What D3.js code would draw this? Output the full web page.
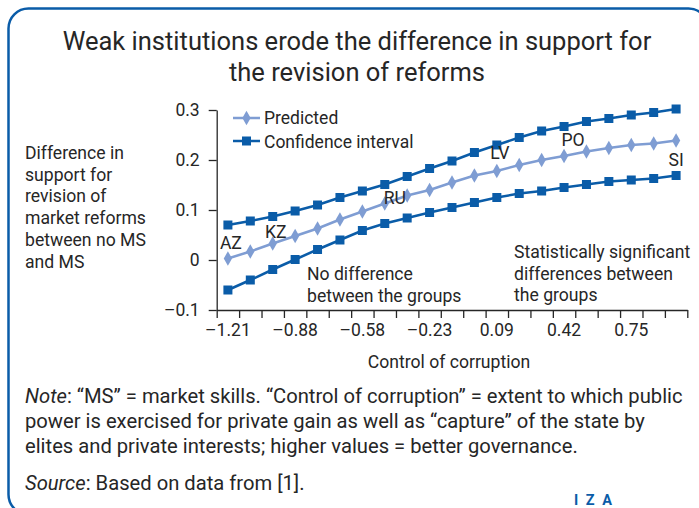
<!DOCTYPE html>
<html>
<head>
<meta charset="utf-8">
<script src="https://cdn.jsdelivr.net/npm/d3@7"></script>
<style>
  body { margin: 0; background: #fff; }
  svg { display: block; font-family: Roboto, "Liberation Sans", sans-serif; }
</style>
</head>
<body>
<svg width="699" height="508"></svg>
<script>
// control of corruption, one value per category (only every third is labelled)
var categories = [-1.21, -1.10, -0.99, -0.88, -0.78, -0.68, -0.58, -0.46, -0.35, -0.23, -0.12,
                  -0.01, 0.09, 0.20, 0.31, 0.42, 0.53, 0.64, 0.75, 0.86, 0.97];
var tickLabels = ["–1.21", "–0.88", "–0.58", "–0.23", "0.09", "0.42", "0.75"];
var yTicks = [-0.1, 0, 0.1, 0.2, 0.3];

var predicted = [0.003, 0.017, 0.033, 0.048, 0.063, 0.081, 0.097, 0.113, 0.129, 0.140, 0.155,
                 0.169, 0.178, 0.190, 0.200, 0.208, 0.217, 0.224, 0.230, 0.233, 0.239];
var upperCI = [0.070, 0.078, 0.087, 0.098, 0.110, 0.125, 0.138, 0.151, 0.167, 0.183, 0.198,
               0.215, 0.230, 0.245, 0.258, 0.267, 0.277, 0.283, 0.290, 0.295, 0.302];
var lowerCI = [-0.060, -0.040, -0.019, 0.001, 0.021, 0.040, 0.059, 0.073, 0.084, 0.095, 0.105,
               0.115, 0.125, 0.133, 0.138, 0.145, 0.151, 0.157, 0.160, 0.163, 0.169];

// country codes and the category they sit over
var countries = ["AZ", "KZ", "RU", "LV", "PO", "SI"];
var countryCats = [-1.21, -0.99, -0.46, 0.09, 0.42, 0.97];

var titleLines = ["Weak institutions erode the difference in support for", "the revision of reforms"];
var yTitleLines = ["Difference in", "support for", "revision of", "market reforms", "between no MS", "and MS"];

var dark = "#0a5ca8",
    light = "#7f9dd3",
    ink = "#262626";

var svg = d3.select("svg"),
    width = +svg.attr("width"),
    height = +svg.attr("height");

// frame
svg.append("rect")
    .attr("x", 8.5).attr("y", 8.5)
    .attr("width", 700).attr("height", 506)
    .attr("rx", 20).attr("ry", 20)
    .attr("fill", "none")
    .attr("stroke", dark)
    .attr("stroke-width", 2.5);

// title
svg.append("text")
    .attr("text-anchor", "middle")
    .attr("font-size", 25.5)
    .attr("fill", ink)
  .selectAll("tspan")
  .data(titleLines)
  .enter().append("tspan")
    .attr("x", 357)
    .attr("y", function(d, i) { return 50 + i * 31; })
    .text(function(d) { return d; });

var plotLeft = 216.7, plotRight = 687.3, plotTop = 110, plotBottom = 310;

var x = d3.scaleBand()
    .domain(categories)
    .range([plotLeft, plotRight]);

var xEdges = d3.scaleLinear()
    .domain([0, categories.length])
    .range([plotLeft, plotRight]);

var y = d3.scaleLinear()
    .domain([-0.1, 0.3])
    .range([plotBottom, plotTop]);

var cx = function(d, i) { return x(categories[i]) + x.bandwidth() / 2; };

// y axis
var yAxis = svg.append("g")
    .attr("transform", "translate(" + plotLeft + ",0)")
    .call(d3.axisLeft(y)
        .tickValues(yTicks)
        .tickSize(8)
        .tickSizeOuter(0)
        .tickPadding(9)
        .tickFormat(function(d) { return d === 0 ? "0" : d3.format(".1f")(d).replace("−", "–"); }));
yAxis.selectAll("text").attr("font-size", 17.5).attr("fill", ink).attr("font-family", "Roboto");
yAxis.selectAll("line, path").attr("stroke", ink).attr("stroke-width", 1.3);

// x axis: ticks at category edges, labels every third category
var xTickAxis = svg.append("g")
    .attr("transform", "translate(0," + plotBottom + ")")
    .call(d3.axisBottom(xEdges)
        .tickValues(d3.range(categories.length + 1))
        .tickSize(8)
        .tickSizeOuter(0)
        .tickFormat(""));
xTickAxis.selectAll("line, path").attr("stroke", ink).attr("stroke-width", 1.3);

var labelled = categories.filter(function(d, i) { return i % 3 === 0; });
var xLabelAxis = svg.append("g")
    .attr("transform", "translate(0," + plotBottom + ")")
    .call(d3.axisBottom(x)
        .tickValues(labelled)
        .tickSize(0)
        .tickPadding(14)
        .tickFormat(function(d, i) { return tickLabels[i]; }));
xLabelAxis.select(".domain").remove();
xLabelAxis.selectAll("text").attr("font-size", 17.5).attr("fill", ink).attr("font-family", "Roboto");

svg.append("text")
    .attr("x", (plotLeft + plotRight) / 2 - 3)
    .attr("y", 368)
    .attr("text-anchor", "middle")
    .attr("font-size", 17.6)
    .attr("fill", ink)
    .text("Control of corruption");

// y title
svg.append("text")
    .attr("font-size", 17.6)
    .attr("fill", ink)
  .selectAll("tspan")
  .data(yTitleLines)
  .enter().append("tspan")
    .attr("x", 25)
    .attr("y", function(d, i) { return 159 + i * 21.7; })
    .text(function(d) { return d; });

// series
var line = d3.line()
    .x(cx)
    .y(function(d) { return y(d); });

var diamond = d3.symbol().type(d3.symbolDiamond).size(60);

[upperCI, lowerCI].forEach(function(series) {
    svg.append("path")
        .datum(series)
        .attr("d", line)
        .attr("fill", "none")
        .attr("stroke", dark)
        .attr("stroke-width", 2.5);
    svg.append("g").selectAll("rect")
        .data(series)
        .enter().append("rect")
            .attr("x", function(d, i) { return cx(d, i) - 4.5; })
            .attr("y", function(d) { return y(d) - 4.5; })
            .attr("width", 9)
            .attr("height", 9)
            .attr("fill", dark);
});

svg.append("path")
    .datum(predicted)
    .attr("d", line)
    .attr("fill", "none")
    .attr("stroke", light)
    .attr("stroke-width", 2.5);
svg.append("g").selectAll("path")
    .data(predicted)
    .enter().append("path")
        .attr("d", diamond)
        .attr("transform", function(d, i) { return "translate(" + cx(d, i) + "," + y(d) + ")"; })
        .attr("fill", light);

// country labels
var labelShift = { AZ: [3, -10], KZ: [3, -6], RU: [10, 0], LV: [3, -12], PO: [9, -10], SI: [0, 25] };
svg.append("g").selectAll("text")
    .data(countries)
    .enter().append("text")
        .attr("text-anchor", "middle")
        .attr("font-size", 17.6)
        .attr("fill", ink)
        .attr("x", function(d, i) { return x(countryCats[i]) + x.bandwidth() / 2 + labelShift[d][0]; })
        .attr("y", function(d, i) {
            var k = categories.indexOf(countryCats[i]);
            return y(predicted[k]) + labelShift[d][1];
        })
        .text(function(d) { return d; });

// region notes
var notes = [
    { x: 307, y: 280, lines: ["No difference", "between the groups"] },
    { x: 514, y: 258, lines: ["Statistically significant", "differences between", "the groups"] }
];
notes.forEach(function(n) {
    svg.append("text")
        .attr("font-size", 17.6)
        .attr("fill", ink)
      .selectAll("tspan")
      .data(n.lines)
      .enter().append("tspan")
        .attr("x", n.x)
        .attr("y", function(d, i) { return n.y + i * 21.7; })
        .text(function(d) { return d; });
});

// legend
var legend = svg.append("g").attr("transform", "translate(233,0)");
legend.append("line").attr("x1", 0).attr("x2", 27).attr("y1", 118).attr("y2", 118)
    .attr("stroke", light).attr("stroke-width", 2.5);
legend.append("path").attr("d", diamond).attr("transform", "translate(13.5,118)").attr("fill", light);
legend.append("text").attr("x", 31).attr("y", 124).attr("font-size", 17.5).attr("fill", ink).text("Predicted");
legend.append("line").attr("x1", 0).attr("x2", 27).attr("y1", 141).attr("y2", 141)
    .attr("stroke", dark).attr("stroke-width", 2.5);
legend.append("rect").attr("x", 9).attr("y", 136.5).attr("width", 9).attr("height", 9).attr("fill", dark);
legend.append("text").attr("x", 31).attr("y", 147.5).attr("font-size", 17.5).attr("fill", ink).text("Confidence interval");

// note and source
var noteText = svg.append("g").attr("font-size", 20.2).attr("fill", ink);
var n1 = noteText.append("text").attr("x", 25).attr("y", 403);
n1.append("tspan").attr("font-style", "italic").text("Note");
n1.append("tspan").text(": “MS” = market skills. “Control of corruption” = extent to which public");
noteText.append("text").attr("x", 25).attr("y", 428)
    .text("power is exercised for private gain as well as “capture” of the state by");
noteText.append("text").attr("x", 25).attr("y", 453)
    .text("elites and private interests; higher values = better governance.");
var s1 = noteText.append("text").attr("x", 25).attr("y", 490);
s1.append("tspan").attr("font-style", "italic").text("Source");
s1.append("tspan").text(": Based on data from [1].");

// logo
svg.append("text")
    .attr("x", 574).attr("y", 504.5)
    .attr("font-size", 14.5)
    .attr("font-weight", "bold")
    .attr("letter-spacing", 7.5)
    .attr("fill", dark)
    .text("IZA");
</script>
</body>
</html>
